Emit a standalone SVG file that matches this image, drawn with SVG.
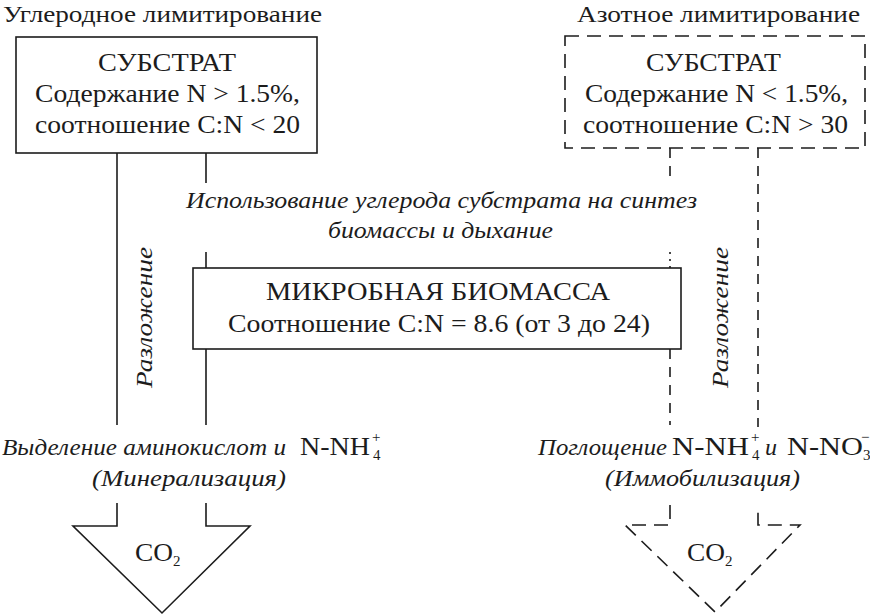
<svg xmlns="http://www.w3.org/2000/svg" width="870" height="616" viewBox="0 0 870 616">
<style>
.t{font-family:"Liberation Serif","Times New Roman",serif;fill:#1c1c1c}
.h{font-size:24px}
.b{font-size:26px}
.i{font-style:italic;font-size:24px}
.s{font-size:15px}
.solid{fill:none;stroke:#1c1c1c;stroke-width:1.6}
.dash{fill:none;stroke:#1c1c1c;stroke-width:1.6;stroke-dasharray:14 8}
.vdash{fill:none;stroke:#1c1c1c;stroke-width:1.6;stroke-dasharray:10 8}
</style>
<rect width="870" height="616" fill="#ffffff"/>

<g id="header-carbon">
<text class="t h" x="3" y="22" textLength="319" lengthAdjust="spacingAndGlyphs">Углеродное лимитирование</text>
</g>
<g id="header-nitrogen">
<text class="t h" x="577" y="22" textLength="283" lengthAdjust="spacingAndGlyphs">Азотное лимитирование</text>
</g>

<g id="substrate-carbon">
<rect class="solid" x="16" y="37" width="301" height="116"/>
<text class="t b" x="98" y="71" textLength="138" lengthAdjust="spacingAndGlyphs">СУБСТРАТ</text>
<text class="t b" x="35" y="102" textLength="265" lengthAdjust="spacingAndGlyphs">Содержание N &gt; 1.5%,</text>
<text class="t b" x="35" y="133" textLength="265" lengthAdjust="spacingAndGlyphs">соотношение C:N &lt; 20</text>
</g>

<g id="substrate-nitrogen">
<rect class="dash" x="565" y="36" width="300" height="112"/>
<text class="t b" x="646" y="71" textLength="135" lengthAdjust="spacingAndGlyphs">СУБСТРАТ</text>
<text class="t b" x="585" y="102" textLength="263" lengthAdjust="spacingAndGlyphs">Содержание N &lt; 1.5%,</text>
<text class="t b" x="583" y="133" textLength="265" lengthAdjust="spacingAndGlyphs">соотношение C:N &gt; 30</text>
</g>

<g id="usage-label">
<text class="t i" x="186" y="208" textLength="511" lengthAdjust="spacingAndGlyphs">Использование углерода субстрата на синтез</text>
<text class="t i" x="328" y="238" textLength="225" lengthAdjust="spacingAndGlyphs">биомассы и дыхание</text>
</g>

<g id="microbial-biomass">
<rect class="solid" x="193" y="268" width="488" height="81"/>
<text class="t b" x="266" y="300" textLength="344" lengthAdjust="spacingAndGlyphs">МИКРОБНАЯ БИОМАССА</text>
<text class="t b" x="228" y="332" textLength="422" lengthAdjust="spacingAndGlyphs">Соотношение C:N = 8.6 (от 3 до 24)</text>
</g>

<g id="decomposition-left">
<text class="t i" transform="translate(152,388) rotate(-90)" x="0" y="0" textLength="141" lengthAdjust="spacingAndGlyphs">Разложение</text>
</g>
<g id="decomposition-right">
<text class="t i" transform="translate(728,388) rotate(-90)" x="0" y="0" textLength="141" lengthAdjust="spacingAndGlyphs">Разложение</text>
</g>

<g id="mineralization-label">
<text class="t i" x="2" y="455" textLength="284" lengthAdjust="spacingAndGlyphs">Выделение аминокислот и</text>
<text class="t b" x="300" y="455" textLength="70" lengthAdjust="spacingAndGlyphs">N-NH</text>
<text class="t s" x="372" y="442">+</text>
<text class="t s" x="373" y="460">4</text>
<text class="t i" x="92" y="486" textLength="194" lengthAdjust="spacingAndGlyphs">(Минерализация)</text>
</g>

<g id="immobilization-label">
<text class="t i" x="538" y="455" textLength="129" lengthAdjust="spacingAndGlyphs">Поглощение</text>
<text class="t b" x="672" y="455" textLength="77" lengthAdjust="spacingAndGlyphs">N-NH</text>
<text class="t s" x="751" y="442">+</text>
<text class="t s" x="752" y="460">4</text>
<text class="t i" x="765" y="455">и</text>
<text class="t b" x="787" y="455" textLength="76" lengthAdjust="spacingAndGlyphs">N-NO</text>
<text class="t s" x="861" y="442">−</text>
<text class="t s" x="863" y="460">3</text>
<text class="t i" x="605" y="486" textLength="195" lengthAdjust="spacingAndGlyphs">(Иммобилизация)</text>
</g>

<g id="connectors">
<path class="solid" d="M117,153 V425"/>
<path class="solid" d="M206,153 V183 M206,252 V268 M206,349 V425"/>
<path class="vdash" d="M670,148 V183 M670,349 V425"/>
<path class="solid" stroke-dasharray="2 5" d="M670,252 V268"/>
<path class="vdash" d="M758,148 V427"/>
</g>

<g id="co2-mineralization">
<path class="solid" d="M117,503 V526 H73 L162,613 L250,526 H206 V503"/>
<text class="t b" x="135" y="561" textLength="38" lengthAdjust="spacingAndGlyphs">CO</text>
<text class="t s" x="173" y="566">2</text>
</g>

<g id="co2-immobilization">
<path class="dash" d="M670,505 V525 H625 L715,612 L800,525 H758 V505"/>
<text class="t b" x="687" y="561" textLength="38" lengthAdjust="spacingAndGlyphs">CO</text>
<text class="t s" x="725" y="566">2</text>
</g>
</svg>
